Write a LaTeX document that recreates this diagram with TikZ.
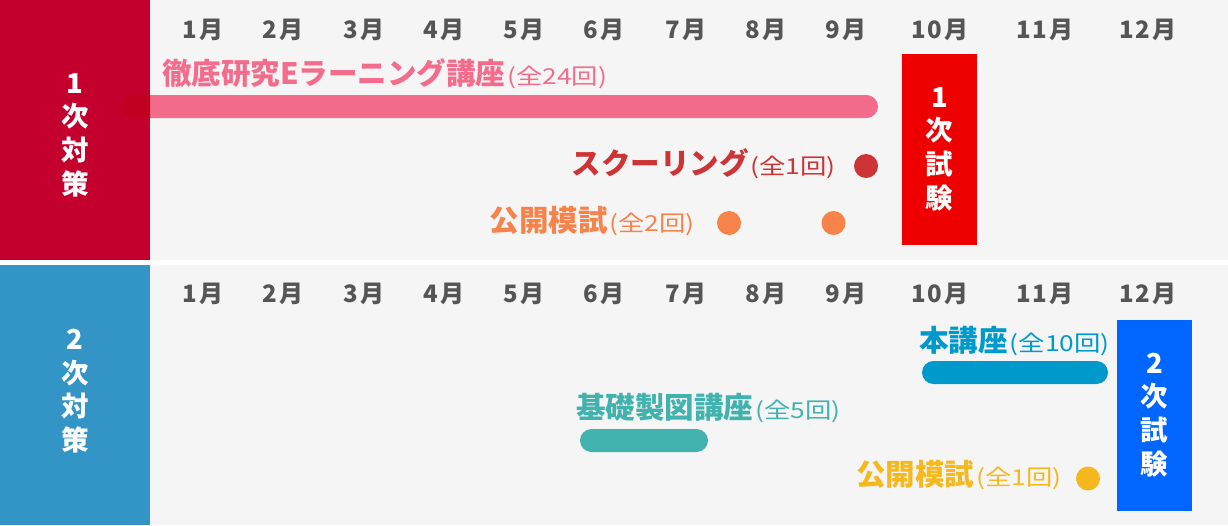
\documentclass[tikz,border=0pt]{standalone}
\usepackage{fontspec}
\newfontfamily\jp{Noto Sans CJK JP}
\newfontfamily\jpw[FakeStretch=1.2]{Noto Sans CJK JP}
\newfontfamily\jpm[LetterSpace=9]{Noto Sans CJK JP}
\definecolor{bandA}{HTML}{C4002F}
\definecolor{bandB}{HTML}{3394C6}
\definecolor{panel}{HTML}{F5F5F5}
\definecolor{pinkc}{HTML}{F36C8C}
\definecolor{capred}{HTML}{BF001F}
\definecolor{boxred}{HTML}{EE0000}
\definecolor{redc}{HTML}{CC3436}
\definecolor{orangec}{HTML}{F5834A}
\definecolor{bluec}{HTML}{0099CC}
\definecolor{tealc}{HTML}{41B2AE}
\definecolor{yellowc}{HTML}{F5B91F}
\definecolor{boxblue}{HTML}{0066FF}
\definecolor{mgray}{HTML}{555555}
\newcommand{\suf}[1]{{\jpw\mdseries\fontsize{22}{22}\selectfont\kern2pt #1}}
\begin{document}
\begin{tikzpicture}[x=1pt,y=-1pt,
  mon/.style={font=\jpm\bfseries\fontsize{24}{24}\selectfont, text=mgray, inner sep=0pt},
  lab/.style={font=\jp\bfseries\fontsize{29.5}{29.5}\selectfont, inner sep=0pt},
  vtext/.style={font=\jp\bfseries\fontsize{27.5}{33.7}\selectfont, text=white, align=center, inner sep=0pt},
  bar/.style={rounded corners=11.5pt},
  dot/.style={circle, minimum size=24pt, inner sep=0pt}]
\useasboundingbox (0,0) rectangle (1228,525);
% backgrounds
\fill[white] (0,0) rectangle (1228,525);
\fill[panel] (150,0) rectangle (1228,260);
\fill[panel] (150,265) rectangle (1228,525);
% pink bar (behind band)
\fill[pinkc, bar] (122,95) rectangle (878,118);
\fill[bandA] (0,0) rectangle (150,260);
\begin{scope}
  \clip (0,0) rectangle (150,260);
  \fill[capred, bar] (122,95) rectangle (878,118);
\end{scope}
\fill[bandB] (0,265) rectangle (150,525);
% band texts
\node[vtext] (b1) at (75,135) {1\\次\\対\\策};
\node[vtext] (b2) at (75,391) {2\\次\\対\\策};
% months
\foreach \m/\x in {1/203,2/283,3/364,4/444,5/524,6/604,7/686,8/766,9/846,10/940,11/1045,12/1148}{
  \node[mon] (ma\m) at (\x,29.5) {\m 月};
  \node[mon] (mb\m) at (\x,294) {\m 月};
}
% top panel
\node[lab, text=pinkc, anchor=west] (t1) at (162,74) {徹底研究Eラーニング講座\suf{(全24回)}};
\node[lab, text=redc, anchor=east] (t2) at (836,164) {スクーリング\suf{(全1回)}};
\node[dot, fill=redc] (d2) at (866,166) {};
\node[lab, text=orangec, anchor=east] (t3) at (695,221) {公開模試\suf{(全2回)}};
\node[dot, fill=orangec] (d3a) at (729,223) {};
\node[dot, fill=orangec] (d3b) at (833.5,223) {};
\fill[boxred] (902,54) rectangle (977,245);
\node[vtext] (x1) at (939.5,149) {1\\次\\試\\験};
% bottom panel
\node[lab, text=bluec, anchor=west] (s1) at (919,341) {本講座\suf{(全10回)}};
\fill[bluec, bar] (922,361) rectangle (1108,384);
\node[lab, text=tealc, anchor=west] (s2) at (576,408) {基礎製図講座\suf{(全5回)}};
\fill[tealc, bar] (580,429) rectangle (708,452);
\node[lab, text=yellowc, anchor=west] (s3) at (856,475) {公開模試\suf{(全1回)}};
\node[dot, fill=yellowc] (d4) at (1088,478.5) {};
\fill[boxblue] (1117,320) rectangle (1192,511);
\node[vtext] (x2) at (1154.5,415) {2\\次\\試\\験};
\end{tikzpicture}
\end{document}
